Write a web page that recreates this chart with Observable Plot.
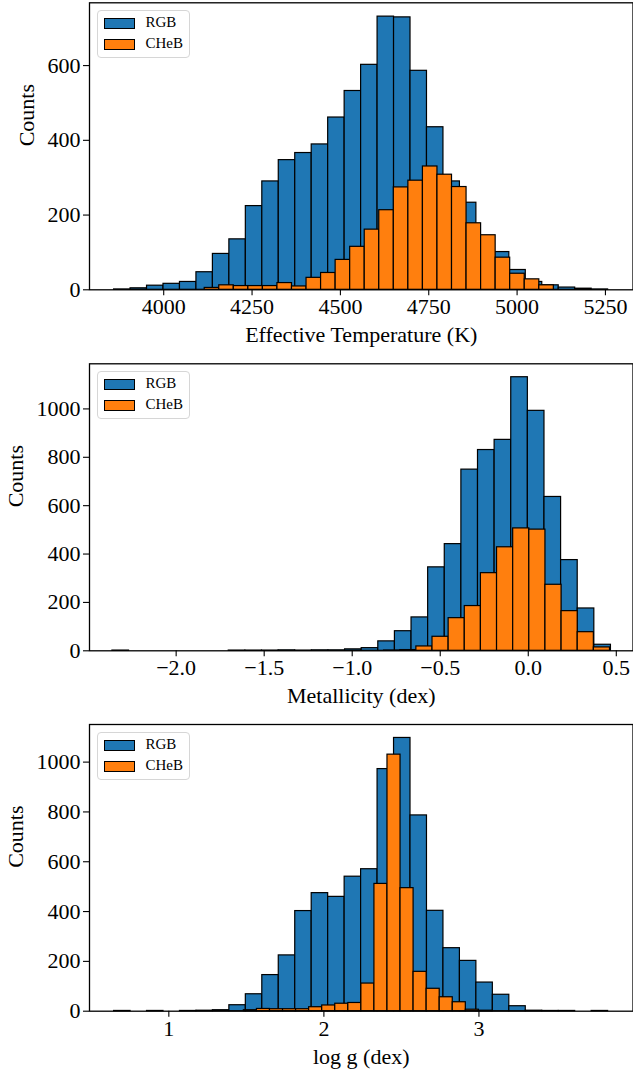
<!DOCTYPE html>
<html><head><meta charset="utf-8">
<script src="https://cdn.jsdelivr.net/npm/d3@7"></script>
<script src="https://cdn.jsdelivr.net/npm/@observablehq/plot@0.6"></script>
<style>
body{margin:0;background:#fff;}
#wrap{position:relative;width:633px;height:1075px;overflow:hidden;background:#fff;font-family:"Liberation Serif","Times New Roman",serif;}
.panel{position:absolute;left:0;}
.panel text{font-family:"Liberation Serif","Times New Roman",serif !important;}
.legend{position:absolute;width:93px;height:48px;border:1px solid #d6d6d6;border-radius:4px;background:rgba(255,255,255,0.8);box-sizing:border-box;}
.legend .item{position:absolute;left:6px;height:10px;}
.legend .sw{position:absolute;left:0;top:0;width:29px;height:9px;border:1px solid #000;}
.legend .lb{position:absolute;left:42px;top:-6px;font-size:15px;line-height:20px;color:#000;white-space:nowrap;}
</style></head><body><div id="wrap"></div>
<script>
// ---------- data ----------
const seriesNames = ["RGB", "CHeB"];
const seriesColors = ["#1f77b4", "#ff7f0e"];

// Effective temperature (K)
const tempRangeRGB = [3859.6, 5257.6];
const tempCountsRGB = [1, 4, 11, 16, 21, 47, 96, 135, 224, 290, 347, 366, 389, 461, 532, 602, 731, 729, 586, 435, 290, 233, 140, 101, 53, 21, 12, 6, 3, 1];
const tempRangeCHeB = [4116, 5104];
const tempCountsCHeB = [5, 12, 10, 10, 10, 18, 9, 32, 45, 80, 115, 161, 213, 274, 292, 330, 308, 275, 178, 146, 86, 43, 28, 12];
const tempTicks = [4000, 4250, 4500, 4750, 5000, 5250];
const tempDomain = [3790, 5328];

// Metallicity (dex)
const fehRangeRGB = [-2.362, 0.4696];
const fehCountsRGB = [1, 0, 0, 0, 0, 0, 0, 1, 1, 1, 2, 1, 2, 2, 6, 11, 39, 81, 138, 345, 441, 749, 830, 872, 1131, 992, 636, 375, 175, 25];
const fehRangeCHeB = [-0.8189, 0.4642];
const fehCountsCHeB = [1, 3, 18, 58, 135, 185, 321, 428, 506, 501, 273, 164, 77, 14];
const fehTicks = [-2.0, -1.5, -1.0, -0.5, 0.0, 0.5];
const fehDomain = [-2.4922, 0.5949];

// log g (dex)
const loggRangeRGB = [0.647, 3.833];
const loggCountsRGB = [1, 0, 1, 0, 1, 2, 4, 24, 68, 145, 224, 402, 474, 459, 540, 570, 972, 1097, 786, 403, 253, 202, 115, 66, 20, 2, 1, 1, 0, 1];
const loggRangeCHeB = [1.4839, 3.0837];
const loggCountsCHeB = [4, 9, 8, 8, 8, 16, 23, 30, 33, 111, 511, 1030, 494, 158, 90, 56, 36, 6, 2];
const loggTicks = [1, 2, 3];
const loggDomain = [0.4884, 3.9935];

const countTicksA = [0, 200, 400, 600];
const countTicksB = [0, 200, 400, 600, 800, 1000];

// ---------- helpers ----------
function binsOf(range, counts, series) {
  const w = (range[1] - range[0]) / counts.length;
  return counts.map((c, i) => ({x1: range[0] + i * w, x2: range[0] + (i + 1) * w, y: c, series}));
}
const FONT = '"Liberation Serif","Times New Roman",serif';
const wrap = document.getElementById("wrap");

function panel(cfg) {
  const rgb = binsOf(cfg.rgbRange, cfg.rgbCounts, seriesNames[0]);
  const cheb = binsOf(cfg.chebRange, cfg.chebCounts, seriesNames[1]);
  const barOpts = (color) => ({x1: "x1", x2: "x2", y1: () => 0, y2: "y", fill: color, stroke: "#000", strokeWidth: 1.2});
  const svg = Plot.plot({
    width: 633, height: cfg.height,
    marginTop: cfg.mt, marginBottom: cfg.mb, marginLeft: 89, marginRight: 0.5,
    x: {domain: cfg.xDomain},
    y: {domain: cfg.yDomain},
    style: {fontFamily: FONT, fontSize: "22px", color: "#000", background: "#fff", overflow: "visible"},
    marks: [
      Plot.rect(rgb, barOpts(seriesColors[0])),
      Plot.rect(cheb, barOpts(seriesColors[1])),
      Plot.axisX(cfg.xTicks, {tickSize: 6, tickPadding: 3, tickFormat: cfg.xFormat, fontSize: 22, fontFamily: FONT, label: null, strokeWidth: 1.1}),
      Plot.axisY(cfg.yTicks, {tickSize: 6, tickPadding: 3, tickFormat: d3.format("d"), fontSize: 22, fontFamily: FONT, label: null, strokeWidth: 1.1}),
      Plot.frame({stroke: "#000", strokeWidth: 1.3}),
      Plot.text([cfg.xLabel], {frameAnchor: "bottom", dy: 45.5, lineAnchor: "middle", fontSize: 22, fontFamily: FONT, fill: "#000"}),
      Plot.text(["Counts"], {frameAnchor: "left", dx: cfg.ylabDx, rotate: -90, lineAnchor: "middle", fontSize: 22, fontFamily: FONT, fill: "#000"})
    ]
  });
  svg.classList.add("panel");
  svg.style.top = cfg.top + "px";
  wrap.appendChild(svg);

  const lg = document.createElement("div");
  lg.className = "legend";
  lg.style.left = "96.5px";
  lg.style.top = (cfg.top + cfg.mt + 7.5) + "px";
  seriesNames.forEach((name, i) => {
    const it = document.createElement("div");
    it.className = "item";
    it.style.top = (7 + i * 21) + "px";
    it.innerHTML = `<div class="sw" style="background:${seriesColors[i]}"></div><div class="lb">${name}</div>`;
    lg.appendChild(it);
  });
  wrap.appendChild(lg);
}

panel({top: 0, height: 361, mt: 2.3, mb: 71.7,
  rgbRange: tempRangeRGB, rgbCounts: tempCountsRGB, chebRange: tempRangeCHeB, chebCounts: tempCountsCHeB,
  xDomain: tempDomain, yDomain: [0, 768], xTicks: tempTicks, xFormat: d3.format("d"), yTicks: countTicksA,
  xLabel: "Effective Temperature (K)", ylabDx: -63});

panel({top: 361, height: 361, mt: 2.3, mb: 71.7,
  rgbRange: fehRangeRGB, rgbCounts: fehCountsRGB, chebRange: fehRangeCHeB, chebCounts: fehCountsCHeB,
  xDomain: fehDomain, yDomain: [0, 1186.5], xTicks: fehTicks, xFormat: d3.format(".1f"), yTicks: countTicksB,
  xLabel: "Metallicity (dex)", ylabDx: -74});

panel({top: 722, height: 353, mt: 2, mb: 64.3,
  rgbRange: loggRangeRGB, rgbCounts: loggCountsRGB, chebRange: loggRangeCHeB, chebCounts: loggCountsCHeB,
  xDomain: loggDomain, yDomain: [0, 1151], xTicks: loggTicks, xFormat: d3.format("d"), yTicks: countTicksB,
  xLabel: "log g (dex)", ylabDx: -74});
</script></body></html>
